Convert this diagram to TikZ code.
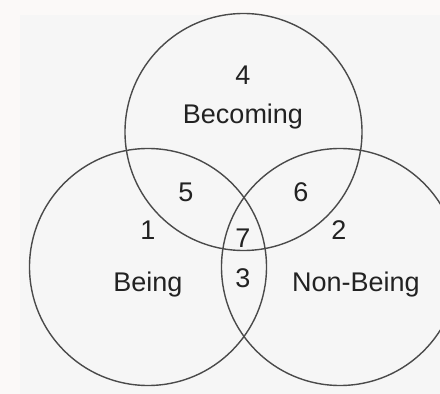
\documentclass[tikz,border=0pt]{standalone}
\usepackage{fontspec}
\setmainfont{Liberation Sans}
\usetikzlibrary{positioning}
\definecolor{pagebg}{HTML}{FBF9F8}
\definecolor{panelbg}{HTML}{F6F6F6}
\definecolor{ringgray}{HTML}{4A4A4A}
\definecolor{inkgray}{HTML}{222222}

\begin{document}
\begin{tikzpicture}[x=1pt,y=-1pt]
\tikzset{
  vennset/.style={circle,draw=ringgray,line width=1.4pt,minimum size=237pt,inner sep=0pt},
  venntext/.style={text=inkgray,font=\fontsize{27}{32}\selectfont,inner sep=0pt}
}
\useasboundingbox (0,0) rectangle (440,394);
\fill[pagebg] (0,0) rectangle (440,394);
\fill[panelbg] (20,15) rectangle (440,394);
\clip (0,0) rectangle (440,394);
\node[vennset] (c_becoming) at (243.5,132) {};
\node[vennset] (c_being) at (148,267) {};
\node[vennset] (c_nonbeing) at (340,267) {};
\node[venntext] (t_4) at (243,75) {4};
\node[venntext] (t_becoming) at (243,117) {Becoming};
\node[venntext] (t_5) at (186,192) {5};
\node[venntext] (t_6) at (301,192) {6};
\node[venntext] (t_1) at (148,230) {1};
\node[venntext] (t_2) at (339,230) {2};
\node[venntext] (t_7) at (243,238) {7};
\node[venntext] (t_3) at (243,278) {3};
\node[venntext] (t_being) at (148,285) {Being};
\node[venntext] (t_nonbeing) at (356,285) {Non-Being};
\end{tikzpicture}
\end{document}
